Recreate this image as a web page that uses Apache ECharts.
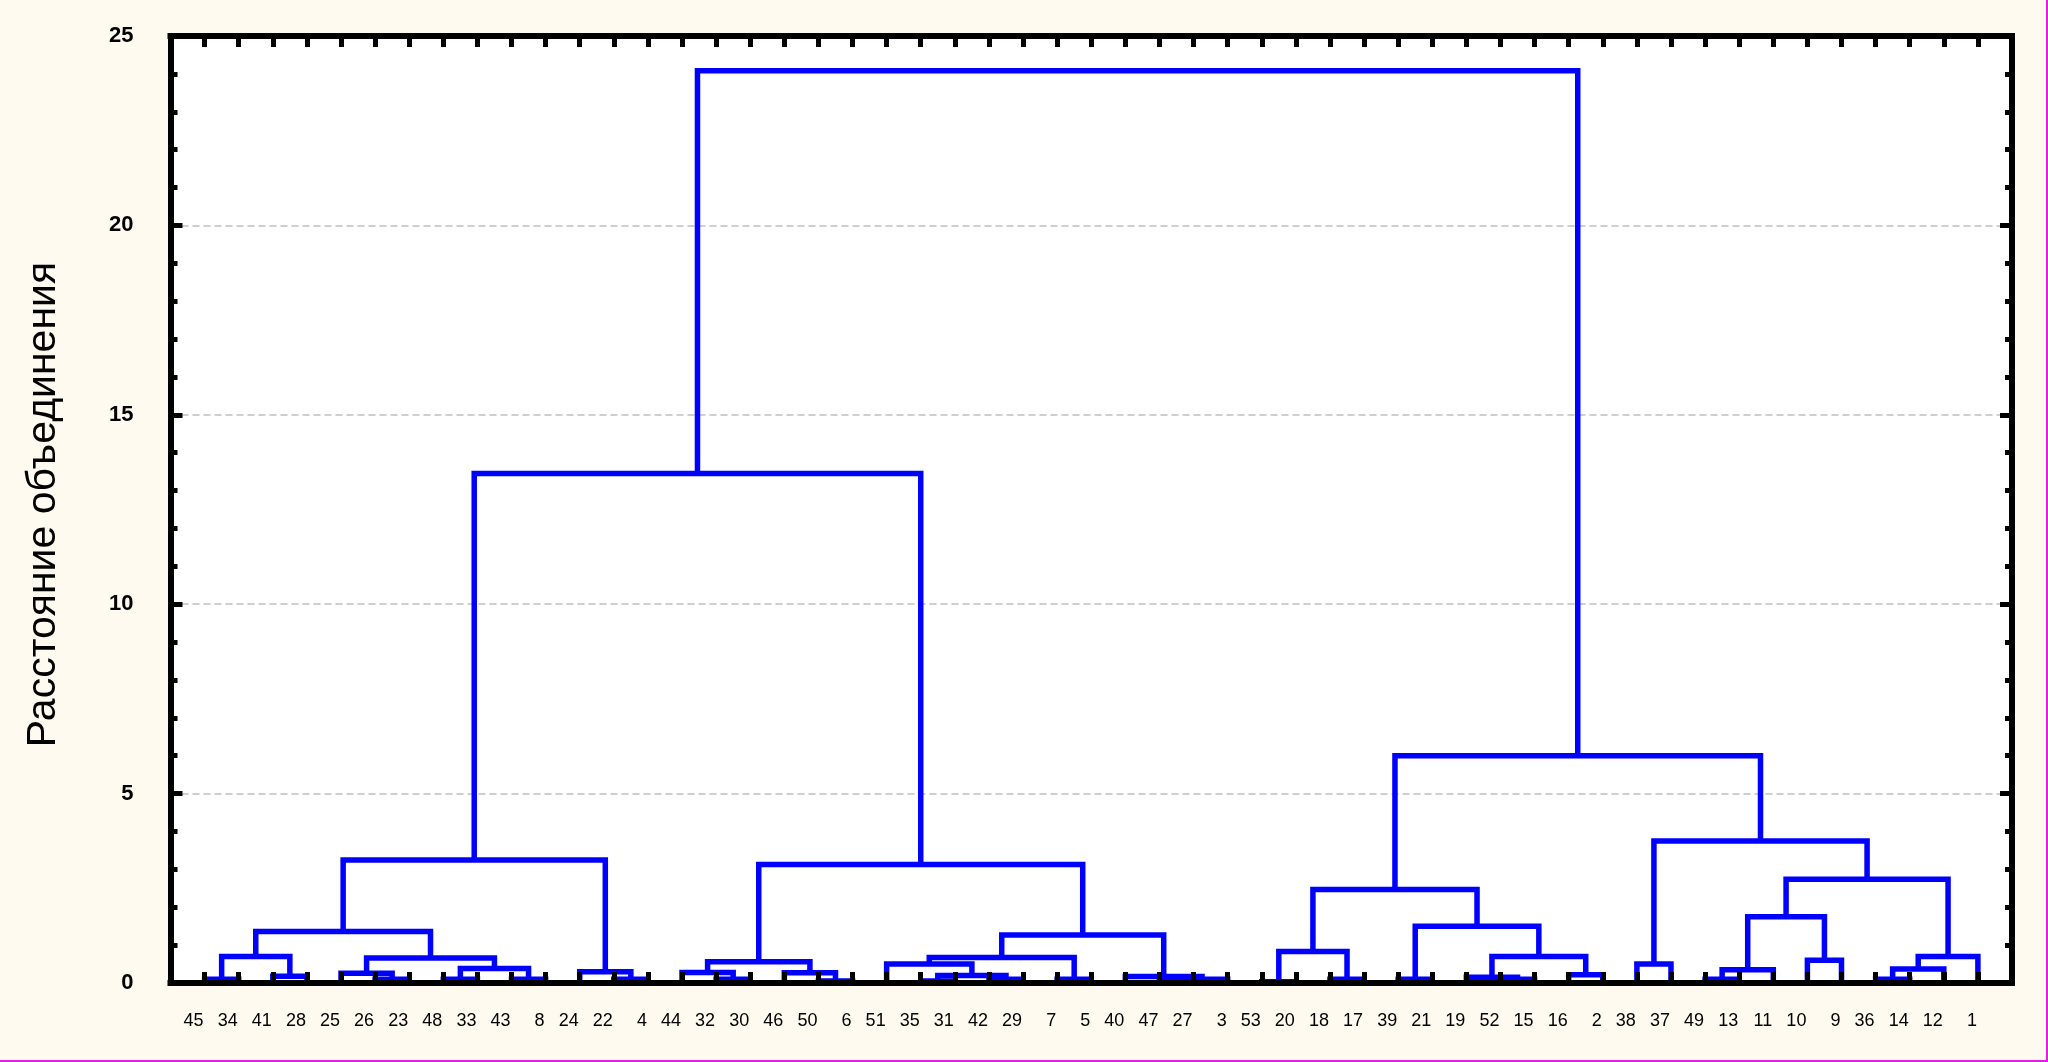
<!DOCTYPE html>
<html><head><meta charset="utf-8">
<script src="https://cdn.jsdelivr.net/npm/echarts@6/dist/echarts.min.js"></script>
<style>html,body{margin:0;padding:0;background:#FFFAF0;overflow:hidden}#c{width:2048px;height:1062px}</style>
</head><body><div id="c"></div>
<script>
// Leaf order along the horizontal axis (object numbers)
const leafLabels = ['45','34','41','28','25','26','23','48','33','43','8','24','22','4','44','32','30','46','50','6',
  '51','35','31','42','29','7','5','40','47','27','3','53','20','18','17','39','21','19','52','15',
  '16','2','38','37','49','13','11','10','9','36','14','12','1'];
// Joins: [child A, child B, linkage distance]; '#n' refers to join number n
const mergeA = ['45','41','#0','26','25','48','43','#5','#4','#2','22','24','#9','32','44','50','46','#14','35','42','#18','51','7','#21','47','#24','40','#23','#17','#12',
  '53','18','#30','39','52','19','16','#35','#33','#32','38','49','#41','10','#42','36','#45','#46','#44','#40','#39','#29'];
const mergeB = ['34','28','#1','23','#3','33','8','#6','#7','#8','4','#10','#11','30','#13','6','#15','#16','31','29','#19','#20','5','#22','27','3','#25','#26','#27','#28',
  '20','17','#31','21','15','#34','2','#36','#37','#38','37','13','11','9','#43','14','12','1','#47','#48','#49','#50'];
const mergeH = [0.10,0.18,0.70,0.10,0.26,0.10,0.10,0.38,0.66,1.36,0.10,0.30,3.25,0.10,0.28,0.05,0.27,0.56,0.05,0.10,0.20,0.50,0.10,0.67,0.05,0.10,0.17,1.27,3.13,13.45,
  0.03,0.10,0.83,0.10,0.10,0.15,0.22,0.70,1.50,2.47,0.50,0.10,0.35,0.60,1.75,0.10,0.37,0.70,2.74,3.75,6.00,24.08];
const yTicks = [0,5,10,15,20,25];

const nodes = {};
leafLabels.forEach((l,i)=>{ nodes[l] = {x:i, h:0}; });
const segs = mergeH.map((h,i)=>{
  const a = nodes[mergeA[i]], b = nodes[mergeB[i]];
  nodes['#'+i] = {x:(a.x+b.x)/2, h:h};
  return [a.x, a.h, b.x, b.h, h];
});

const sans = '"Liberation Sans",Arial,sans-serif';
const axisLineStyle = {color:'#000', width:6, cap:'square'};
const tickStyle = {color:'#000', width:5};
const chart = echarts.init(document.getElementById('c'));
chart.setOption({
  backgroundColor:'#FFFAF0',
  animation:false,
  grid:{left:170.5, right:36, top:36, bottom:79, show:true, backgroundColor:'#FFFFFF', borderWidth:0},
  xAxis:[
    {type:'value', min:-1, max:leafLabels.length, interval:1, position:'bottom', z:3,
     axisLine:{show:true, onZero:false, lineStyle:axisLineStyle},
     axisTick:{show:true, inside:true, length:11, lineStyle:tickStyle},
     axisLabel:{show:true, formatter:v=>leafLabels[v]!==undefined?leafLabels[v]:'', align:'right', padding:[0,1,0,0],
       margin:29, fontFamily:sans, fontSize:18, color:'#000', showMinLabel:true, showMaxLabel:true},
     splitLine:{show:false}},
    {type:'value', min:-1, max:leafLabels.length, interval:1, position:'top', z:3,
     axisLine:{show:true, onZero:false, lineStyle:axisLineStyle},
     axisTick:{show:true, inside:true, length:11, lineStyle:tickStyle},
     axisLabel:{show:false}, splitLine:{show:false}}
  ],
  yAxis:[
    {type:'value', min:yTicks[0], max:yTicks[yTicks.length-1], interval:yTicks[1]-yTicks[0], position:'left', z:3,
     axisLine:{show:true, onZero:false, lineStyle:axisLineStyle},
     axisTick:{show:true, inside:true, length:12, lineStyle:tickStyle},
     minorTick:{show:true, splitNumber:5, length:7, lineStyle:tickStyle},
     axisLabel:{margin:37, fontFamily:sans, fontWeight:'bold', fontSize:22, color:'#000'},
     splitLine:{show:false},
     name:'Расстояние объединения', nameLocation:'middle', nameGap:106, nameRotate:90,
     nameTextStyle:{fontFamily:sans, fontSize:41, color:'#000', padding:[0,0,0,10]}},
    {type:'value', min:yTicks[0], max:yTicks[yTicks.length-1], interval:yTicks[1]-yTicks[0], position:'right', z:0,
     axisLine:{show:true, onZero:false, lineStyle:axisLineStyle},
     axisTick:{show:true, inside:true, length:12, lineStyle:tickStyle},
     minorTick:{show:true, splitNumber:5, length:7, lineStyle:tickStyle},
     axisLabel:{show:false},
     splitLine:{show:true, lineStyle:{color:'#C0C0C0', width:1.5, type:[7,4]}}}
  ],
  series:[{
    type:'custom', data:segs, z:2, silent:true, clip:false,
    encode:{x:[0,2], y:[1,4]},
    renderItem:(params, api)=>{
      const xa=api.value(0), ha=api.value(1), xb=api.value(2), hb=api.value(3), h=api.value(4);
      const pts=[api.coord([xa,ha]), api.coord([xa,h]), api.coord([xb,h]), api.coord([xb,hb])];
      return {type:'polyline', shape:{points:pts}, style:{stroke:'#0000FF', lineWidth:5.5, fill:null, lineJoin:'miter'}};
    }
  }],
  graphic:[
    {type:'rect', left:0, top:1060, shape:{width:2048, height:2}, style:{fill:'#E020E0'}, silent:true},
    {type:'rect', left:2046, top:0, shape:{width:2, height:1062}, style:{fill:'#E020E0'}, silent:true}
  ]
});
</script></body></html>
